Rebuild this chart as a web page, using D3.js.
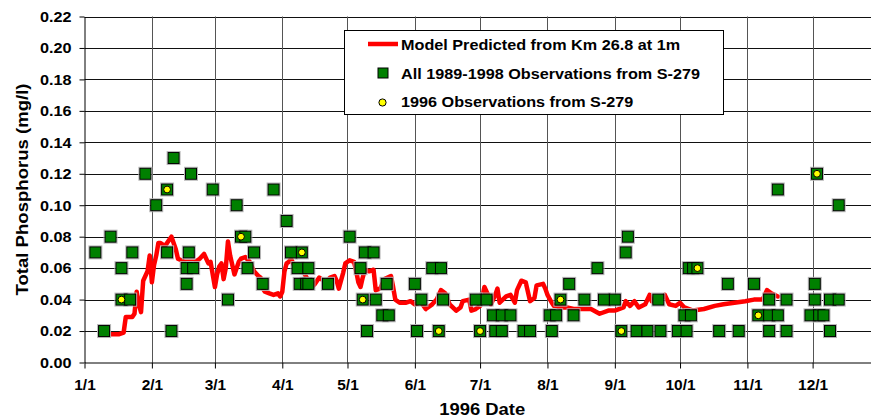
<!DOCTYPE html>
<html>
<head>
<meta charset="utf-8">
<script src="https://cdn.jsdelivr.net/npm/d3@7"></script>
<style>
  body { margin: 0; background: #fff; }
  svg { display: block; }
  text { font-family: "Liberation Sans", Arial, sans-serif; font-weight: bold; fill: #000; }
</style>
</head>
<body>
<svg id="chart" width="871" height="420"></svg>
<script>
// ---- data ----
const yTicks = [0, 0.02, 0.04, 0.06, 0.08, 0.10, 0.12, 0.14, 0.16, 0.18, 0.20, 0.22];
const monthTicks = ["1/1", "2/1", "3/1", "4/1", "5/1", "6/1", "7/1", "8/1", "9/1", "10/1", "11/1", "12/1"];

// Model predicted TP (Km 26.8, 1 m depth)
const modelDates = [
  "1/13","1/15","1/17","1/19","1/20","1/22","1/23","1/24","1/25","1/26","1/27","1/28","1/29","1/30","1/31",
  "2/1","2/2","2/3","2/4","2/5","2/7","2/9","2/10","2/11","2/12","2/13","2/16","2/19","2/21","2/23","2/25","2/27","2/28",
  "3/1","3/2","3/3","3/4","3/5","3/6","3/7","3/8","3/9","3/10","3/12","3/13","3/15","3/17","3/19","3/21","3/22","3/23","3/24","3/26","3/28","3/30","3/31",
  "4/1","4/2","4/3","4/4","4/5","4/7","4/9","4/11","4/13","4/14","4/16","4/18","4/19","4/21","4/23","4/25","4/26","4/27","4/29","4/30",
  "5/2","5/4","5/5","5/6","5/7","5/8","5/9","5/11","5/13","5/14","5/16","5/18","5/21","5/22","5/23","5/25","5/28","5/30",
  "6/1","6/3","6/4","6/6","6/9","6/11","6/13","6/15","6/17","6/20","6/22","6/23","6/26","6/27","6/29",
  "7/1","7/2","7/3","7/5","7/6","7/8","7/9","7/10","7/13","7/15","7/17","7/18","7/20","7/22","7/24","7/26","7/27","7/30","7/31",
  "8/1","8/3","8/4","8/7","8/10","8/13","8/16","8/18","8/21","8/25","8/29",
  "9/1","9/5","9/6","9/8","9/10","9/12","9/15","9/17","9/18","9/21","9/24","9/26","9/29",
  "10/1","10/3","10/7","10/12","10/17","10/21","10/26","10/31",
  "11/4","11/8","11/10","11/12","11/15"
];
const modelValues = [
  0.018,0.018,0.018,0.019,0.029,0.029,0.029,0.031,0.045,0.037,0.032,0.052,0.055,0.058,0.068,
  0.051,0.062,0.068,0.076,0.076,0.074,0.078,0.080,0.076,0.072,0.066,0.064,0.064,0.064,0.066,0.069,0.063,0.064,
  0.048,0.056,0.061,0.063,0.053,0.060,0.077,0.068,0.062,0.056,0.064,0.066,0.067,0.064,0.058,0.055,0.054,0.047,0.045,0.044,0.043,0.044,0.042,
  0.045,0.058,0.063,0.064,0.066,0.060,0.058,0.057,0.052,0.047,0.050,0.054,0.053,0.051,0.054,0.055,0.052,0.047,0.057,0.063,
  0.065,0.064,0.058,0.051,0.048,0.054,0.059,0.058,0.059,0.046,0.047,0.053,0.055,0.048,0.040,0.038,0.038,0.039,
  0.037,0.038,0.038,0.034,0.037,0.040,0.046,0.044,0.037,0.033,0.035,0.039,0.040,0.033,0.034,
  0.036,0.041,0.048,0.042,0.037,0.043,0.047,0.038,0.042,0.043,0.038,0.046,0.052,0.051,0.039,0.041,0.049,0.050,0.047,
  0.043,0.038,0.036,0.035,0.035,0.034,0.034,0.034,0.034,0.031,0.033,
  0.033,0.035,0.039,0.036,0.039,0.035,0.037,0.043,0.039,0.039,0.043,0.037,0.036,
  0.038,0.035,0.033,0.034,0.036,0.037,0.038,0.039,
  0.040,0.040,0.046,0.044,0.042
];

// All 1989-1998 observations from S-279, plotted on a 1996 calendar
const obsDates = [
  "1/6","1/10","1/13","1/18","1/18","1/22","1/23","1/29",
  "2/3","2/8","2/8","2/10","2/11","2/17","2/17","2/18","2/19","2/20","2/29",
  "3/7","3/11","3/13","3/15","3/16","3/19","3/23","3/28",
  "4/3","4/5","4/8","4/9","4/10","4/12","4/13","4/13","4/22",
  "5/2","5/7","5/8","5/9","5/10","5/13","5/14","5/17","5/19","5/20",
  "6/1","6/2","6/4","6/9","6/12","6/13","6/14","6/29",
  "7/1","7/4","7/7","7/8","7/11","7/11","7/15","7/21","7/24",
  "8/2","8/3","8/5","8/7","8/11","8/13","8/18","8/24","8/27",
  "9/1","9/4","9/6","9/7","9/11","9/16","9/21","9/22","9/30",
  "10/3","10/4","10/5","10/6","10/7","10/9","10/19","10/23","10/28",
  "11/4","11/6","11/11","11/11","11/11","11/15","11/15","11/19","11/19","11/30",
  "12/2","12/2","12/3","12/4","12/6","12/9","12/9","12/13","12/13"
];
const obsValues = [
  0.07,0.02,0.08,0.06,0.04,0.04,0.07,0.12,
  0.10,0.11,0.07,0.02,0.13,0.06,0.05,0.07,0.12,0.06,0.11,
  0.04,0.10,0.08,0.08,0.06,0.07,0.05,0.11,
  0.09,0.07,0.06,0.05,0.07,0.05,0.06,0.05,0.05,
  0.08,0.06,0.04,0.07,0.02,0.07,0.04,0.03,0.05,0.03,
  0.05,0.02,0.04,0.06,0.02,0.06,0.04,0.04,
  0.02,0.04,0.03,0.02,0.03,0.02,0.03,0.02,0.02,
  0.03,0.02,0.03,0.04,0.05,0.03,0.04,0.06,0.04,
  0.04,0.02,0.07,0.08,0.02,0.02,0.04,0.02,0.02,
  0.03,0.02,0.06,0.03,0.06,0.06,0.02,0.05,0.02,
  0.05,0.03,0.04,0.03,0.02,0.03,0.11,0.04,0.02,0.03,
  0.05,0.04,0.12,0.03,0.03,0.02,0.04,0.04,0.10
];

// 1996 observations from S-279
const obs96Dates = ["1/18","2/8","3/13","4/10","5/8","6/12","7/1","8/7","9/4","10/9","11/6","12/3"];
const obs96Values = [0.04, 0.11, 0.08, 0.07, 0.04, 0.02, 0.02, 0.04, 0.02, 0.06, 0.03, 0.12];

// ---- setup ----
const parseDay = d3.timeParse("%m/%d/%Y");
const toDate = s => parseDay(s + "/1996");

const svg = d3.select("#chart");
const plotLeft = 84.5, plotRight = 880, plotTop = 16.5, plotBottom = 362.5;

const x = d3.scaleTime()
  .domain([new Date(1996, 0, 1), new Date(1997, 0, 1)])
  .range([plotLeft, plotRight]);
const y = d3.scaleLinear().domain([0, 0.22]).range([plotBottom, plotTop]);

// stretch rendered text horizontally by a factor
function stretch(sel, f) {
  sel.each(function () {
    const w = this.getComputedTextLength();
    this.setAttribute("textLength", w * f);
    this.setAttribute("lengthAdjust", "spacingAndGlyphs");
  });
}

// ---- grid ----
const grid = svg.append("g");
grid.selectAll("line.h").data(yTicks.slice(1)).join("line")
  .attr("x1", plotLeft).attr("x2", plotRight)
  .attr("y1", d => Math.round(y(d)) + 0.5).attr("y2", d => Math.round(y(d)) + 0.5)
  .attr("stroke", "#111").attr("stroke-width", 1);
grid.selectAll("line.v").data(monthTicks.slice(1).map(toDate)).join("line")
  .attr("x1", d => Math.round(x(d)) + 0.5).attr("x2", d => Math.round(x(d)) + 0.5)
  .attr("y1", plotTop).attr("y2", plotBottom)
  .attr("stroke", "#555").attr("stroke-width", 1);

// ---- axes ----
const yAxis = svg.append("g").attr("transform", `translate(${plotLeft},0)`)
  .call(d3.axisLeft(y).tickValues(yTicks).tickFormat(d3.format(".2f")).tickSize(5).tickSizeOuter(0).tickPadding(8));
const xAxis = svg.append("g").attr("transform", `translate(0,${plotBottom})`)
  .call(d3.axisBottom(x).tickValues(monthTicks.map(toDate)).tickFormat(d3.timeFormat("%-m/%-d")).tickSize(6).tickSizeOuter(0).tickPadding(11));
[yAxis, xAxis].forEach(g => {
  g.attr("font-family", null).attr("font-size", null);
  g.select(".domain").attr("stroke", "#000").attr("stroke-width", 1);
  g.selectAll(".tick line").attr("stroke", "#000");
  g.selectAll("text").attr("font-size", 15).attr("font-weight", "bold").attr("fill", "#000");
});
stretch(yAxis.selectAll("text"), 1.08);
stretch(xAxis.selectAll("text"), 1.03);

// axis titles
const xTitle = svg.append("text").attr("x", (plotLeft + plotRight) / 2).attr("y", 415)
  .attr("text-anchor", "middle").attr("font-size", 16).text("1996 Date");
stretch(xTitle, 1.15);
const yTitle = svg.append("text").attr("transform", `translate(28,${(plotTop + plotBottom) / 2}) rotate(-90)`)
  .attr("text-anchor", "middle").attr("font-size", 16).text("Total Phosphorus (mg/l)");
stretch(yTitle, 1.16);

// ---- model line ----
const model = modelDates.map((d, i) => ({ date: toDate(d), value: modelValues[i] }));
svg.append("path").datum(model)
  .attr("fill", "none").attr("stroke", "#ff0000").attr("stroke-width", 4.5)
  .attr("stroke-linejoin", "round").attr("stroke-linecap", "round")
  .attr("d", d3.line().x(d => x(d.date)).y(d => y(d.value)));

// ---- observations ----
const obs = obsDates.map((d, i) => ({ date: toDate(d), value: obsValues[i] }));
const sq = 11;
svg.append("g").selectAll("rect").data(obs).join("rect")
  .attr("x", d => x(d.date) - sq / 2 - 1).attr("y", d => y(d.value) - sq / 2 - 1)
  .attr("width", sq + 2).attr("height", sq + 2)
  .attr("fill", "none").attr("stroke", "#b8b8b8").attr("stroke-width", 1);
svg.append("g").selectAll("rect").data(obs).join("rect")
  .attr("x", d => x(d.date) - sq / 2).attr("y", d => y(d.value) - sq / 2)
  .attr("width", sq).attr("height", sq)
  .attr("fill", "#008000").attr("stroke", "#000").attr("stroke-width", 1);

const obs96 = obs96Dates.map((d, i) => ({ date: toDate(d), value: obs96Values[i] }));
svg.append("g").selectAll("circle").data(obs96).join("circle")
  .attr("cx", d => x(d.date)).attr("cy", d => y(d.value)).attr("r", 3.4)
  .attr("fill", "#ffff00").attr("stroke", "#000").attr("stroke-width", 1);

// ---- legend ----
const lg = svg.append("g");
lg.append("rect").attr("x", 344.5).attr("y", 30.5).attr("width", 379).attr("height", 84)
  .attr("fill", "#fff").attr("stroke", "#000").attr("stroke-width", 1);
lg.append("line").attr("x1", 368).attr("x2", 398).attr("y1", 44).attr("y2", 44)
  .attr("stroke", "#ff0000").attr("stroke-width", 4.5);
lg.append("rect").attr("x", 378).attr("y", 68).attr("width", 10).attr("height", 10)
  .attr("fill", "#008000").attr("stroke", "#000").attr("stroke-width", 1);
lg.append("circle").attr("cx", 382.5).attr("cy", 102.5).attr("r", 3.6)
  .attr("fill", "#ffff00").attr("stroke", "#000").attr("stroke-width", 1);
const legendLabels = ["Model Predicted from Km 26.8 at 1m", "All 1989-1998 Observations from S-279", "1996 Observations from S-279"];
const lt = lg.selectAll("text.lab").data(legendLabels).join("text")
  .attr("x", 401).attr("y", (d, i) => 50 + i * 28.7)
  .attr("font-size", 15).text(d => d);
stretch(lt, 1.08);
</script>
</body>
</html>
